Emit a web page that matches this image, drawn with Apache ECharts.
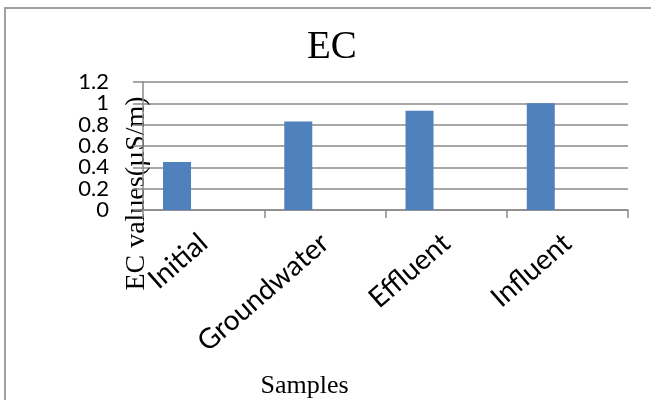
<!DOCTYPE html>
<html lang="en">
<head>
  <meta charset="UTF-8">
  <script src="https://cdn.jsdelivr.net/npm/echarts@6/dist/echarts.min.js"></script>
  <title>EC</title>
</head>
<body style="margin:0;background:#fff;">
  <div id="main" style="width: 651px;height:400px;"></div>
  <script type="text/javascript">
    // data
    var categories = ['Initial', 'Groundwater', 'Effluent', 'Influent'];
    var ecValues = [0.45, 0.83, 0.93, 1.0];
    var emptyValues = [null, null, null, null]; // second (empty) series, pushes bars left like the original
    var yTicks = ['0', '0.2', '0.4', '0.6', '0.8', '1', '1.2'];

    var myChart = echarts.init(document.getElementById('main'));

    var axisGray = '#8a8a8a';

    var option = {
      animation: false,
      backgroundColor: '#fff',
      title: {
        text: 'EC',
        left: 302,
        top: 23,
        textStyle: {
          fontFamily: 'Liberation Serif',
          fontSize: 39,
          fontWeight: 'normal',
          color: '#000'
        }
      },
      graphic: [{
        type: 'rect',
        shape: { x: 5, y: 8, width: 700, height: 500 },
        style: { fill: 'none', stroke: '#a0a0a0', lineWidth: 2 },
        silent: true
      }],
      grid: {
        left: 143,
        right: 23,
        top: 82,
        bottom: 189
      },
      xAxis: {
        type: 'category',
        data: categories,
        name: 'Samples',
        nameLocation: 'middle',
        nameGap: 163,
        nameMoveOverlap: false,
        nameTextStyle: {
          fontFamily: 'Liberation Serif',
          fontSize: 26,
          color: '#000',
          padding: [0, 162, 0, 0]
        },
        axisLine: { lineStyle: { color: axisGray, width: 1.5 } },
        axisTick: { show: true, length: 8, lineStyle: { color: axisGray, width: 1.5 } },
        axisLabel: {
          rotate: 41,
          margin: 29,
          interval: 0,
          fontFamily: 'Lato',
          fontSize: 28,
          color: '#000'
        }
      },
      yAxis: [
        {
          type: 'value',
          min: Number(yTicks[0]),
          max: Number(yTicks[yTicks.length - 1]),
          interval: 0.2,
          name: 'EC values(\u00b5S/m)',
          nameLocation: 'middle',
          nameRotate: 90,
          nameGap: -8,
          nameMoveOverlap: false,
          nameTextStyle: {
            fontFamily: 'Liberation Serif',
            fontSize: 28,
            color: '#000',
            padding: [0, 95, 0, 0]
          },
          axisLine: { show: true, lineStyle: { color: axisGray, width: 1.5 } },
          axisTick: { show: true, length: 10, lineStyle: { color: axisGray, width: 1.5 } },
          axisLabel: { show: false },
          splitLine: { lineStyle: { color: axisGray, width: 1.5 } }
        },
        {
          // tick labels only, same positions as the value axis ticks
          type: 'category',
          data: yTicks,
          boundaryGap: false,
          position: 'left',
          axisLine: { show: false },
          axisTick: { show: false },
          splitLine: { show: false },
          axisLabel: {
            interval: 0,
            margin: 34,
            fontFamily: 'Lato',
            fontSize: 22,
            color: '#000'
          }
        }
      ],
      series: [
        {
          name: 'EC',
          type: 'bar',
          data: ecValues,
          barWidth: 28,
          barGap: '90%',
          itemStyle: { color: '#4f81bd' }
        },
        {
          name: 'blank',
          type: 'bar',
          data: emptyValues,
          barWidth: 28,
          itemStyle: { color: '#c0504d' }
        }
      ]
    };

    myChart.setOption(option);
  </script>
</body>
</html>
